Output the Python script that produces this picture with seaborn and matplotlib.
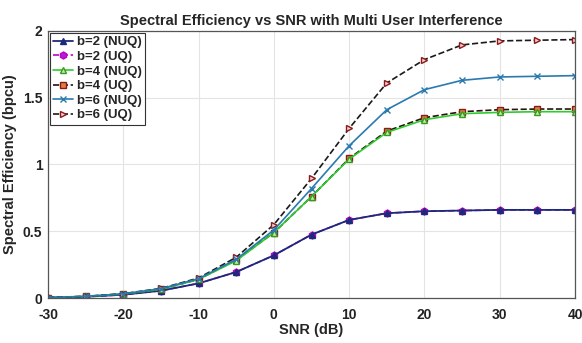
import matplotlib
matplotlib.use("Agg")
import matplotlib.pyplot as plt
import seaborn as sns
import pandas as pd

snr = [-30, -25, -20, -15, -10, -5, 0, 5, 10, 15, 20, 25, 30, 35, 40]
b2_nuq = [0.003, 0.01, 0.025, 0.055, 0.11, 0.195, 0.32, 0.475, 0.585, 0.635, 0.65, 0.655, 0.66, 0.66, 0.66]
b2_uq = [0.003, 0.01, 0.025, 0.055, 0.11, 0.195, 0.32, 0.475, 0.585, 0.635, 0.65, 0.655, 0.66, 0.66, 0.66]
b4_nuq = [0.004, 0.012, 0.03, 0.065, 0.14, 0.28, 0.49, 0.76, 1.04, 1.24, 1.335, 1.38, 1.39, 1.395, 1.395]
b4_uq = [0.004, 0.012, 0.03, 0.066, 0.14, 0.285, 0.49, 0.76, 1.045, 1.25, 1.35, 1.395, 1.41, 1.415, 1.415]
b6_nuq = [0.004, 0.013, 0.032, 0.07, 0.145, 0.29, 0.51, 0.82, 1.14, 1.41, 1.56, 1.63, 1.655, 1.66, 1.665]
b6_uq = [0.004, 0.013, 0.033, 0.072, 0.15, 0.305, 0.55, 0.895, 1.27, 1.61, 1.785, 1.895, 1.925, 1.93, 1.935]

labels = ["b=2 (NUQ)", "b=2 (UQ)", "b=4 (NUQ)", "b=4 (UQ)", "b=6 (NUQ)", "b=6 (UQ)"]
series = [b2_nuq, b2_uq, b4_nuq, b4_uq, b6_nuq, b6_uq]

sns.set_style("whitegrid")
plt.rcParams['font.family'] = ['Liberation Sans', 'DejaVu Sans']
plt.rcParams['font.weight'] = 'bold'
plt.rcParams['axes.unicode_minus'] = False

fig = plt.figure(figsize=(5.82, 3.43), dpi=100)
ax = fig.add_axes([0.0825, 0.131, 0.9055, 0.779])

styles = [
    dict(color="#1b2a7a", ls="-", marker="^", mfc="#1b2a7a", mec="#1b2a7a", ms=4, lw=1.3),
    dict(color="#c000c8", ls="--", marker="h", mfc="#b020d0", mec="#c000c8", ms=5, lw=1.2),
    dict(color="#2ecc2e", ls="-", marker="^", mfc="#b8f0a0", mec="#3a9a20", ms=5, lw=1.2),
    dict(color="#2a1010", ls="--", marker="s", mfc="#e08040", mec="#8b1a1a", ms=4.5, lw=1.2),
    dict(color="#2a7ab0", ls="-", marker="x", mfc="#2a7ab0", mec="#2a7ab0", ms=4, lw=1.2),
    dict(color="#1a1a1a", ls="--", marker=">", mfc="#f4d0d8", mec="#8b1a1a", ms=5, lw=1.2),
]

# draw order: UQ dashed first so solid lines sit on top where they overlap
order = [1, 0, 3, 2, 5, 4]
for i in order:
    df = pd.DataFrame({"snr": snr, "se": series[i]})
    st = styles[i]
    sns.lineplot(data=df, x="snr", y="se", ax=ax, color=st["color"], linestyle=st["ls"],
                 linewidth=st["lw"], marker=st["marker"], markersize=st["ms"],
                 markerfacecolor=st["mfc"], markeredgecolor=st["mec"], markeredgewidth=1.0,
                 label=labels[i])

h, l = ax.get_legend_handles_labels()
hm = dict(zip(l, h))
leg = ax.legend([hm[x] for x in labels], labels, loc="upper left", frameon=True, fancybox=False,
                edgecolor="#333333", framealpha=1, handlelength=1.5,
                handletextpad=0.3, borderpad=0.25, labelspacing=0.18, borderaxespad=0.15,
                prop=dict(weight="bold", size=9.5))
leg.get_frame().set_linewidth(0.8)

ax.set_xlim(-30, 40)
ax.set_ylim(0, 2)
ax.set_xticks([-30, -20, -10, 0, 10, 20, 30, 40])
ax.set_xticklabels(["-30", "-20", "-10", "0", "10", "20", "30", "40"])
ax.set_yticks([0, 0.5, 1, 1.5, 2])
ax.set_yticklabels(["0", "0.5", "1", "1.5", "2"])
ax.tick_params(axis="both", labelsize=10, length=3, direction="in", colors="#222222")
ax.tick_params(axis="x", pad=7)
ax.tick_params(axis="y", pad=4)
for t in ax.get_xticklabels() + ax.get_yticklabels():
    t.set_fontweight("bold")
ax.grid(True, color="#e4e4e4", linewidth=0.8)
for s in ax.spines.values():
    s.set_visible(True)
    s.set_color("#555555")
    s.set_linewidth(0.9)

ax.set_xlabel("SNR (dB)", fontsize=10.5, fontweight="bold", labelpad=1)
ax.set_ylabel("Spectral Efficiency (bpcu)", fontsize=10.5, fontweight="bold", labelpad=4)
ax.set_title("Spectral Efficiency vs SNR with Multi User Interference", fontsize=10.5,
             fontweight="bold", pad=4)

fig.savefig("out.png", dpi=100)
